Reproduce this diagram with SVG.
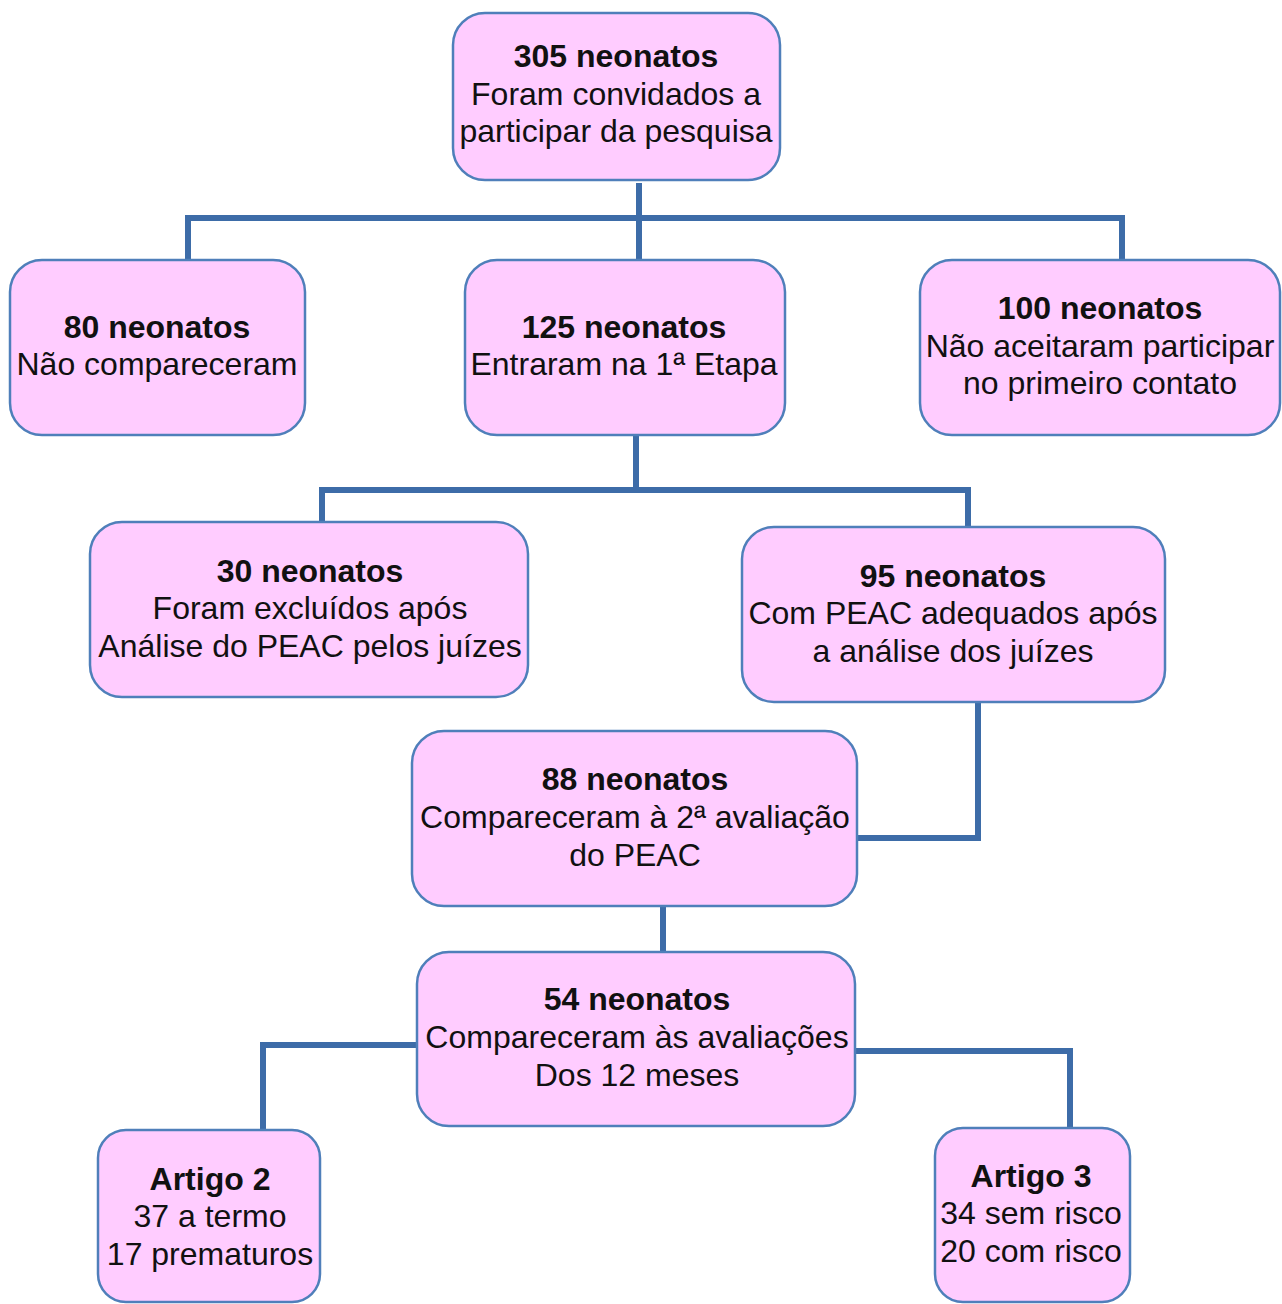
<svg xmlns="http://www.w3.org/2000/svg" width="1282" height="1304" viewBox="0 0 1282 1304">
<style>
.box{fill:#FFCCFF;stroke:#4F7FBA;stroke-width:2.5}
.t{font-family:"Liberation Sans",Arial,sans-serif;font-size:32px;fill:#111;text-anchor:middle}
.b{font-weight:bold}
.c{fill:none;stroke:#3D6CA8;stroke-width:6}
</style>
<rect width="1282" height="1304" fill="#fff"/>
<g id="connectors">
<path class="c" d="M639 183V260M188 260V218H1122V260"/>
<path class="c" d="M636 435V490M322 522V490H968V527"/>
<path class="c" d="M978 702V838H857"/>
<path class="c" d="M663 906V952"/>
<path class="c" d="M417 1045H263V1130"/>
<path class="c" d="M855 1051H1070V1128"/>
</g>
<g id="n305"><rect class="box" x="453" y="13" width="327" height="167" rx="32"/>
<text class="t"><tspan class="b" x="616" y="67">305 neonatos</tspan><tspan x="616" y="105">Foram convidados a</tspan><tspan x="616" y="142">participar da pesquisa</tspan></text></g>
<g id="n80"><rect class="box" x="10" y="260" width="295" height="175" rx="32"/>
<text class="t"><tspan class="b" x="157" y="338">80 neonatos</tspan><tspan x="157" y="375">Não compareceram</tspan></text></g>
<g id="n125"><rect class="box" x="465" y="260" width="320" height="175" rx="32"/>
<text class="t"><tspan class="b" x="624" y="338">125 neonatos</tspan><tspan x="624" y="375">Entraram na 1ª Etapa</tspan></text></g>
<g id="n100"><rect class="box" x="920" y="260" width="360" height="175" rx="32"/>
<text class="t"><tspan class="b" x="1100" y="319">100 neonatos</tspan><tspan x="1100" y="357">Não aceitaram participar</tspan><tspan x="1100" y="394">no primeiro contato</tspan></text></g>
<g id="n30"><rect class="box" x="90" y="522" width="438" height="175" rx="32"/>
<text class="t"><tspan class="b" x="310" y="582">30 neonatos</tspan><tspan x="310" y="619">Foram excluídos após</tspan><tspan x="310" y="657">Análise do PEAC pelos juízes</tspan></text></g>
<g id="n95"><rect class="box" x="742" y="527" width="423" height="175" rx="32"/>
<text class="t"><tspan class="b" x="953" y="587">95 neonatos</tspan><tspan x="953" y="624">Com PEAC adequados após</tspan><tspan x="953" y="662">a análise dos juízes</tspan></text></g>
<g id="n88"><rect class="box" x="412" y="731" width="445" height="175" rx="32"/>
<text class="t"><tspan class="b" x="635" y="790">88 neonatos</tspan><tspan x="635" y="828">Compareceram à 2ª avaliação</tspan><tspan x="635" y="866">do PEAC</tspan></text></g>
<g id="n54"><rect class="box" x="417" y="952" width="438" height="174" rx="32"/>
<text class="t"><tspan class="b" x="637" y="1010">54 neonatos</tspan><tspan x="637" y="1048">Compareceram às avaliações</tspan><tspan x="637" y="1086">Dos 12 meses</tspan></text></g>
<g id="artigo2"><rect class="box" x="98" y="1130" width="222" height="172" rx="28"/>
<text class="t"><tspan class="b" x="210" y="1190">Artigo 2</tspan><tspan x="210" y="1227">37 a termo</tspan><tspan x="210" y="1265">17 prematuros</tspan></text></g>
<g id="artigo3"><rect class="box" x="935" y="1128" width="195" height="174" rx="28"/>
<text class="t"><tspan class="b" x="1031" y="1187">Artigo 3</tspan><tspan x="1031" y="1224">34 sem risco</tspan><tspan x="1031" y="1262">20 com risco</tspan></text></g>
</svg>
